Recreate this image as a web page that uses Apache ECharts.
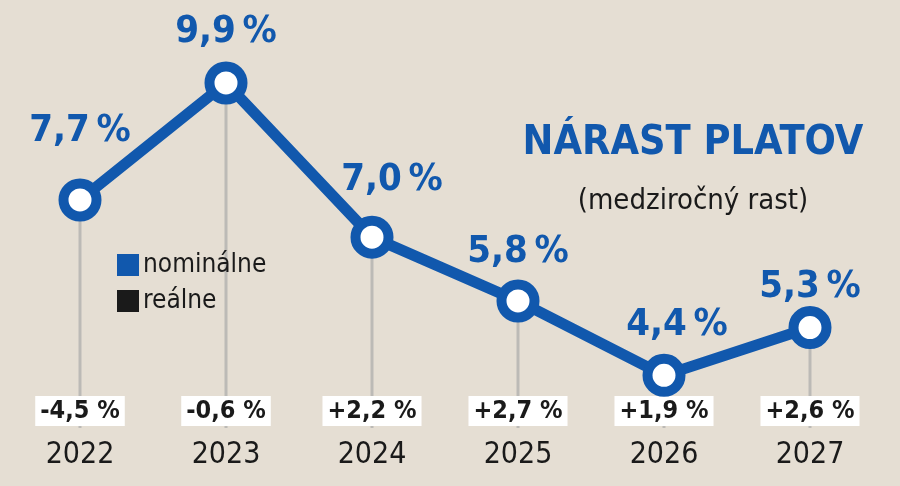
<!DOCTYPE html>
<html>
<head>
<meta charset="utf-8">
<script src="https://cdn.jsdelivr.net/npm/echarts@6/dist/echarts.min.js"></script>
<style>
  html, body { margin: 0; padding: 0; background: #e5ded3; }
  #chart { width: 900px; height: 486px; }
</style>
</head>
<body>
<div id="chart"></div>
<script>
// roky a hodnoty (medziročný rast miezd v %)
const years = ['2022', '2023', '2024', '2025', '2026', '2027'];
const nominal = [7.7, 9.9, 7.0, 5.8, 4.4, 5.3];
const real = [-4.5, -0.6, 2.2, 2.7, 1.9, 2.6];

const BLUE = '#1158ad';
const INK = '#1a1a1a';
const FONT = 'DejaVu Sans Condensed';

// posun popisov nominálneho rastu, aby sedeli ako v predlohe
const labelNudge = [[0, -18], [0, 0], [20, -7], [0, 2], [13, 0], [0, 10]];

const fmt = (v, sign, gap) => {
    const s = Math.abs(v).toFixed(1).replace('.', ',') + gap + '%';
    if (!sign) return s;
    return (v < 0 ? '-' : '+') + s;
};

const chart = echarts.init(document.getElementById('chart'));

chart.setOption({
    backgroundColor: '#e5ded3',
    animation: false,
    title: {
        text: 'NÁRAST PLATOV',
        subtext: '(medziročný rast)',
        left: 688,
        top: 116,
        textAlign: 'center',
        itemGap: 20,
        textStyle: {
            fontFamily: FONT,
            fontWeight: 'bold',
            fontSize: 41,
            lineHeight: 44,
            color: BLUE
        },
        subtextStyle: {
            fontFamily: FONT,
            fontSize: 29,
            lineHeight: 32,
            color: INK
        }
    },
    legend: {
        orient: 'vertical',
        left: 112,
        top: 247,
        itemWidth: 22,
        itemHeight: 22,
        itemGap: 10,
        selectedMode: false,
        textStyle: {
            fontFamily: FONT,
            fontSize: 26,
            color: INK,
            padding: [0, 0, 0, -1]
        },
        data: [
            { name: 'nominálne', icon: 'rect', itemStyle: { color: BLUE, borderWidth: 0 } },
            { name: 'reálne', icon: 'rect', itemStyle: { color: INK, borderWidth: 0 } }
        ]
    },
    grid: {
        left: 7,
        right: 17,
        top: 24.5,
        bottom: 58
    },
    xAxis: {
        type: 'category',
        data: years,
        axisLine: { show: false },
        axisTick: { show: false },
        axisLabel: {
            margin: 11,
            fontFamily: FONT,
            fontSize: 30,
            lineHeight: 32,
            color: INK
        }
    },
    yAxis: {
        type: 'value',
        min: 3.41,
        max: 11,
        show: false,
        splitLine: { show: false }
    },
    series: [
        {
            // šedé stĺpiky pod bodmi + reálny rast v bielych rámčekoch
            name: 'reálne',
            type: 'bar',
            data: nominal,
            barWidth: 3,
            z: 1,
            itemStyle: { color: '#bcbab6' },
            label: {
                show: true,
                position: 'insideBottom',
                distance: 2,
                formatter: (p) => fmt(real[p.dataIndex], true, ' '),
                fontFamily: FONT,
                fontWeight: 'bold',
                fontSize: 25,
                lineHeight: 24,
                color: INK,
                backgroundColor: '#ffffff',
                padding: [3, 5]
            }
        },
        {
            name: 'nominálne',
            type: 'line',
            data: nominal.map((v, i) => ({
                value: v,
                label: { offset: labelNudge[i] }
            })),
            z: 3,
            symbol: 'circle',
            symbolSize: 33,
            lineStyle: { color: BLUE, width: 11 },
            itemStyle: { color: '#ffffff', borderColor: BLUE, borderWidth: 10 },
            label: {
                show: true,
                position: 'top',
                distance: 7,
                formatter: (p) => fmt(p.value, false, '\u2009'),
                fontFamily: FONT,
                fontWeight: 'bold',
                fontSize: 38,
                lineHeight: 44,
                color: BLUE
            }
        }
    ]
});
</script>
</body>
</html>
